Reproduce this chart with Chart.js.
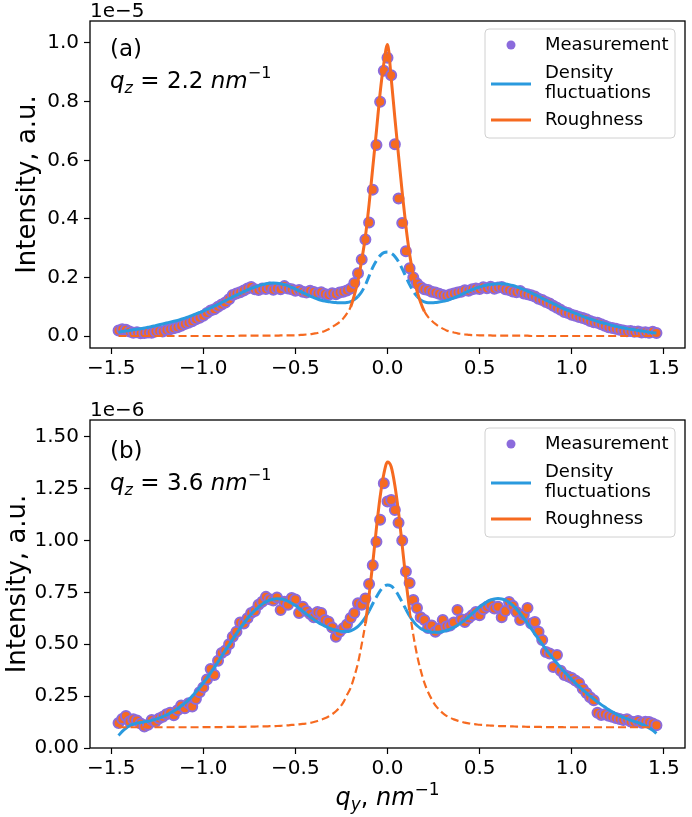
<!DOCTYPE html>
<html>
<head>
<meta charset="utf-8">
<script src="https://cdn.jsdelivr.net/npm/chart.js@4.4.1/dist/chart.umd.min.js"></script>
<style>
  html, body { margin: 0; padding: 0; background: #fff; }
  #wrap { position: relative; width: 692px; height: 817px; }
  .panel { position: absolute; left: 0; width: 692px; }
  #panelA { top: 0; height: 395px; }
  #panelB { top: 395px; height: 422px; }
</style>
</head>
<body>
<div id="wrap">
  <div class="panel" id="panelA"><canvas id="chartA"></canvas></div>
  <div class="panel" id="panelB"><canvas id="chartB"></canvas></div>
</div>
<script>
// q_y grid (nm^-1), shared by both panels
const qy = [
  -1.46, -1.44, -1.42, -1.40, -1.38, -1.36, -1.34, -1.32, -1.30, -1.28,
  -1.26, -1.24, -1.22, -1.20, -1.18, -1.16, -1.14, -1.12, -1.10, -1.08,
  -1.06, -1.04, -1.02, -1.00, -0.98, -0.96, -0.94, -0.92, -0.90, -0.88,
  -0.86, -0.84, -0.82, -0.80, -0.78, -0.76, -0.74, -0.72, -0.70, -0.68,
  -0.66, -0.64, -0.62, -0.60, -0.58, -0.56, -0.54, -0.52, -0.50, -0.48,
  -0.46, -0.44, -0.42, -0.40, -0.38, -0.36, -0.34, -0.32, -0.30, -0.28,
  -0.26, -0.24, -0.22, -0.20, -0.18, -0.16, -0.14, -0.12, -0.10, -0.08,
  -0.06, -0.04, -0.02, 0.00, 0.02, 0.04, 0.06, 0.08, 0.10, 0.12,
  0.14, 0.16, 0.18, 0.20, 0.22, 0.24, 0.26, 0.28, 0.30, 0.32,
  0.34, 0.36, 0.38, 0.40, 0.42, 0.44, 0.46, 0.48, 0.50, 0.52,
  0.54, 0.56, 0.58, 0.60, 0.62, 0.64, 0.66, 0.68, 0.70, 0.72,
  0.74, 0.76, 0.78, 0.80, 0.82, 0.84, 0.86, 0.88, 0.90, 0.92,
  0.94, 0.96, 0.98, 1.00, 1.02, 1.04, 1.06, 1.08, 1.10, 1.12,
  1.14, 1.16, 1.18, 1.20, 1.22, 1.24, 1.26, 1.28, 1.30, 1.32,
  1.34, 1.36, 1.38, 1.40, 1.42, 1.44, 1.46
];

// panel (a), q_z = 2.2 nm^-1, intensity in units of 1e-5
const measA = [
  0.020, 0.024, 0.022, 0.016, 0.012, 0.014, 0.010, 0.011, 0.013, 0.012,
  0.016, 0.018, 0.016, 0.021, 0.024, 0.027, 0.031, 0.036, 0.042, 0.046,
  0.051, 0.058, 0.063, 0.070, 0.079, 0.088, 0.092, 0.101, 0.108, 0.115,
  0.126, 0.141, 0.146, 0.150, 0.156, 0.163, 0.168, 0.160, 0.158, 0.163,
  0.161, 0.166, 0.159, 0.164, 0.160, 0.171, 0.163, 0.160, 0.155, 0.158,
  0.152, 0.149, 0.155, 0.151, 0.146, 0.150, 0.144, 0.141, 0.147, 0.143,
  0.149, 0.152, 0.156, 0.163, 0.182, 0.215, 0.262, 0.330, 0.388, 0.500,
  0.652, 0.800, 0.905, 0.950, 0.890, 0.655, 0.470, 0.386, 0.290, 0.232,
  0.200, 0.180, 0.168, 0.160, 0.158, 0.152, 0.149, 0.145, 0.141, 0.138,
  0.142, 0.146, 0.149, 0.152, 0.157, 0.155, 0.160, 0.163, 0.161, 0.167,
  0.164, 0.169, 0.162, 0.166, 0.168, 0.160, 0.158, 0.153, 0.150, 0.154,
  0.146, 0.143, 0.140, 0.136, 0.128, 0.124, 0.117, 0.112, 0.104, 0.097,
  0.090, 0.083, 0.079, 0.073, 0.070, 0.066, 0.062, 0.058, 0.052, 0.048,
  0.046, 0.041, 0.036, 0.031, 0.028, 0.026, 0.022, 0.020, 0.017, 0.018,
  0.015, 0.016, 0.013, 0.014, 0.012, 0.015, 0.011
];
const densA = [
  0.014, 0.016, 0.018, 0.020, 0.022, 0.024, 0.026, 0.028, 0.031, 0.033,
  0.036, 0.039, 0.042, 0.045, 0.048, 0.051, 0.054, 0.058, 0.062, 0.066,
  0.071, 0.076, 0.081, 0.086, 0.092, 0.097, 0.103, 0.109, 0.115, 0.121,
  0.128, 0.134, 0.140, 0.146, 0.152, 0.158, 0.163, 0.168, 0.172, 0.176,
  0.179, 0.181, 0.182, 0.181, 0.179, 0.176, 0.172, 0.167, 0.161, 0.155,
  0.149, 0.143, 0.137, 0.132, 0.127, 0.123, 0.120, 0.118, 0.116, 0.115,
  0.114, 0.114, 0.115, 0.118, 0.125, 0.136, 0.152, 0.175, 0.205, 0.235,
  0.258, 0.275, 0.285, 0.287, 0.283, 0.272, 0.254, 0.230, 0.203, 0.176,
  0.153, 0.136, 0.124, 0.117, 0.114, 0.114, 0.115, 0.117, 0.119, 0.122,
  0.126, 0.131, 0.136, 0.142, 0.148, 0.154, 0.159, 0.164, 0.168, 0.172,
  0.175, 0.177, 0.178, 0.179, 0.179, 0.178, 0.176, 0.173, 0.169, 0.164,
  0.159, 0.154, 0.148, 0.142, 0.136, 0.129, 0.123, 0.117, 0.111, 0.105,
  0.099, 0.093, 0.088, 0.083, 0.078, 0.073, 0.068, 0.063, 0.059, 0.055,
  0.051, 0.047, 0.044, 0.040, 0.037, 0.034, 0.031, 0.029, 0.026, 0.024,
  0.022, 0.020, 0.018, 0.016, 0.014, 0.012, 0.011
];
const roughA = [
  0.001, 0.001, 0.001, 0.001, 0.001, 0.001, 0.001, 0.001, 0.001, 0.001,
  0.001, 0.001, 0.001, 0.001, 0.001, 0.001, 0.001, 0.001, 0.001, 0.001,
  0.001, 0.001, 0.001, 0.001, 0.001, 0.001, 0.001, 0.001, 0.001, 0.001,
  0.001, 0.001, 0.001, 0.002, 0.002, 0.002, 0.002, 0.002, 0.002, 0.002,
  0.002, 0.002, 0.002, 0.002, 0.003, 0.003, 0.003, 0.003, 0.003, 0.004,
  0.005, 0.006, 0.007, 0.009, 0.011, 0.014, 0.018, 0.024, 0.031, 0.040,
  0.048, 0.061, 0.078, 0.100, 0.140, 0.190, 0.260, 0.340, 0.450, 0.575,
  0.700, 0.830, 0.930, 0.995, 0.880, 0.745, 0.615, 0.490, 0.375, 0.280,
  0.210, 0.155, 0.115, 0.085, 0.066, 0.053, 0.042, 0.033, 0.026, 0.020,
  0.016, 0.013, 0.010, 0.008, 0.006, 0.005, 0.004, 0.004, 0.003, 0.003,
  0.003, 0.003, 0.002, 0.002, 0.002, 0.002, 0.002, 0.002, 0.002, 0.002,
  0.002, 0.002, 0.001, 0.001, 0.001, 0.001, 0.001, 0.001, 0.001, 0.001,
  0.001, 0.001, 0.001, 0.001, 0.001, 0.001, 0.001, 0.001, 0.001, 0.001,
  0.001, 0.001, 0.001, 0.001, 0.001, 0.001, 0.001, 0.001, 0.001, 0.001,
  0.001, 0.001, 0.001, 0.001, 0.001, 0.001, 0.001
];

// panel (b), q_z = 3.6 nm^-1, intensity in units of 1e-6
const measB = [
  0.120, 0.140, 0.154, 0.128, 0.138, 0.132, 0.118, 0.103, 0.112, 0.135,
  0.126, 0.142, 0.150, 0.163, 0.170, 0.158, 0.182, 0.205, 0.191, 0.215,
  0.200, 0.236, 0.268, 0.292, 0.330, 0.380, 0.352, 0.420, 0.458, 0.470,
  0.500, 0.536, 0.560, 0.605, 0.600, 0.625, 0.650, 0.660, 0.690, 0.705,
  0.728, 0.716, 0.710, 0.725, 0.665, 0.705, 0.690, 0.722, 0.715, 0.650,
  0.680, 0.660, 0.645, 0.630, 0.655, 0.650, 0.617, 0.608, 0.580, 0.536,
  0.560, 0.577, 0.595, 0.626, 0.650, 0.697, 0.690, 0.720, 0.790, 0.880,
  0.994, 1.100, 1.275, 1.187, 1.195, 1.147, 1.085, 1.000, 0.850, 0.795,
  0.713, 0.674, 0.630, 0.617, 0.578, 0.590, 0.560, 0.575, 0.617, 0.585,
  0.590, 0.605, 0.665, 0.620, 0.607, 0.625, 0.640, 0.655, 0.640, 0.668,
  0.680, 0.690, 0.672, 0.680, 0.630, 0.660, 0.703, 0.685, 0.655, 0.617,
  0.642, 0.674, 0.600, 0.607, 0.560, 0.520, 0.462, 0.455, 0.390, 0.448,
  0.372, 0.352, 0.345, 0.337, 0.325, 0.313, 0.285, 0.265, 0.245, 0.230,
  0.170, 0.159, 0.162, 0.155, 0.150, 0.145, 0.140, 0.135, 0.138, 0.128,
  0.125, 0.130, 0.122, 0.127, 0.125, 0.118, 0.110
];
const densB = [
  0.060, 0.080, 0.095, 0.107, 0.115, 0.120, 0.123, 0.126, 0.129, 0.133,
  0.138, 0.144, 0.151, 0.159, 0.168, 0.178, 0.189, 0.202, 0.216, 0.232,
  0.250, 0.270, 0.291, 0.313, 0.337, 0.362, 0.388, 0.415, 0.443, 0.470,
  0.497, 0.524, 0.551, 0.577, 0.601, 0.624, 0.645, 0.663, 0.679, 0.693,
  0.704, 0.712, 0.717, 0.719, 0.718, 0.714, 0.707, 0.697, 0.686, 0.673,
  0.659, 0.645, 0.632, 0.619, 0.607, 0.596, 0.587, 0.579, 0.572, 0.567,
  0.563, 0.561, 0.561, 0.565, 0.573, 0.586, 0.605, 0.630, 0.660, 0.695,
  0.728, 0.757, 0.777, 0.785, 0.780, 0.762, 0.735, 0.702, 0.668, 0.636,
  0.610, 0.590, 0.576, 0.567, 0.561, 0.558, 0.557, 0.558, 0.561, 0.566,
  0.573, 0.581, 0.591, 0.603, 0.617, 0.632, 0.648, 0.664, 0.679, 0.692,
  0.704, 0.713, 0.718, 0.720, 0.718, 0.712, 0.701, 0.687, 0.669, 0.648,
  0.625, 0.600, 0.575, 0.550, 0.525, 0.500, 0.475, 0.452, 0.430, 0.408,
  0.387, 0.367, 0.348, 0.330, 0.313, 0.296, 0.280, 0.265, 0.250, 0.236,
  0.222, 0.209, 0.197, 0.185, 0.174, 0.164, 0.155, 0.147, 0.140, 0.134,
  0.128, 0.122, 0.115, 0.107, 0.097, 0.085, 0.070
];
const roughB = [
  0.100, 0.100, 0.100, 0.100, 0.100, 0.100, 0.100, 0.100, 0.100, 0.100,
  0.100, 0.100, 0.100, 0.100, 0.100, 0.100, 0.100, 0.100, 0.100, 0.100,
  0.100, 0.100, 0.100, 0.101, 0.101, 0.101, 0.101, 0.101, 0.101, 0.102,
  0.102, 0.102, 0.102, 0.102, 0.102, 0.103, 0.103, 0.103, 0.104, 0.104,
  0.104, 0.105, 0.105, 0.106, 0.107, 0.108, 0.109, 0.111, 0.112, 0.114,
  0.116, 0.118, 0.121, 0.125, 0.130, 0.136, 0.143, 0.152, 0.163, 0.177,
  0.195, 0.220, 0.255, 0.290, 0.345, 0.410, 0.500, 0.600, 0.735, 0.890,
  1.060, 1.210, 1.320, 1.378, 1.355, 1.265, 1.135, 0.975, 0.810, 0.665,
  0.545, 0.450, 0.375, 0.315, 0.270, 0.235, 0.205, 0.185, 0.168, 0.155,
  0.146, 0.138, 0.132, 0.127, 0.122, 0.119, 0.116, 0.114, 0.112, 0.111,
  0.109, 0.108, 0.107, 0.106, 0.105, 0.105, 0.104, 0.104, 0.103, 0.103,
  0.103, 0.102, 0.102, 0.102, 0.102, 0.101, 0.101, 0.101, 0.101, 0.101,
  0.101, 0.100, 0.100, 0.100, 0.100, 0.100, 0.100, 0.100, 0.100, 0.100,
  0.100, 0.100, 0.100, 0.100, 0.100, 0.100, 0.100, 0.100, 0.100, 0.100,
  0.100, 0.100, 0.100, 0.100, 0.100, 0.100, 0.100
];

const xTicks = [-1.5, -1.0, -0.5, 0.0, 0.5, 1.0, 1.5];
const yTicksA = [0.0, 0.2, 0.4, 0.6, 0.8, 1.0];
const yTicksB = [0.00, 0.25, 0.50, 0.75, 1.00, 1.25, 1.50];

const FONT = 'DejaVu Sans';
const BLUE = '#2a9ade';
const ORANGE = '#f66a20';
const PURPLE = '#8b6bdc';

// draw a run of text pieces (for sub/superscripts)
function drawParts(ctx, x, y, parts) {
    parts.forEach(function(p) {
        ctx.font = (p[2] ? 'italic ' : '') + p[1] + 'px "' + FONT + '"';
        ctx.fillText(p[0], x, y + (p[3] || 0));
        x += ctx.measureText(p[0]).width;
    });
}

function partsWidth(ctx, parts) {
    let w = 0;
    parts.forEach(function(p) {
        ctx.font = (p[2] ? 'italic ' : '') + p[1] + 'px "' + FONT + '"';
        w += ctx.measureText(p[0]).width;
    });
    return w;
}

function drawLegend(ctx, left, top) {
    const w = 190, h = 109, r = 4;
    ctx.save();
    ctx.beginPath();
    ctx.moveTo(left + r, top);
    ctx.arcTo(left + w, top, left + w, top + h, r);
    ctx.arcTo(left + w, top + h, left, top + h, r);
    ctx.arcTo(left, top + h, left, top, r);
    ctx.arcTo(left, top, left + w, top, r);
    ctx.closePath();
    ctx.fillStyle = 'rgba(255,255,255,0.8)';
    ctx.fill();
    ctx.strokeStyle = '#d0d0d0';
    ctx.lineWidth = 1;
    ctx.stroke();

    // Measurement marker
    ctx.beginPath();
    ctx.arc(left + 26, top + 16, 4.5, 0, Math.PI * 2);
    ctx.fillStyle = PURPLE;
    ctx.fill();

    // line samples
    ctx.lineWidth = 3;
    ctx.strokeStyle = BLUE;
    ctx.beginPath();
    ctx.moveTo(left + 6, top + 55);
    ctx.lineTo(left + 46, top + 55);
    ctx.stroke();
    ctx.strokeStyle = ORANGE;
    ctx.beginPath();
    ctx.moveTo(left + 6, top + 91);
    ctx.lineTo(left + 46, top + 91);
    ctx.stroke();

    ctx.fillStyle = '#000';
    ctx.font = '18px "' + FONT + '"';
    ctx.textAlign = 'left';
    ctx.textBaseline = 'middle';
    ctx.fillText('Measurement', left + 60, top + 16);
    ctx.fillText('Density', left + 60, top + 44);
    ctx.fillText('fluctuations', left + 60, top + 64);
    ctx.fillText('Roughness', left + 60, top + 91);
    ctx.restore();
}

function within(ctx, lim) {
    return Math.abs(ctx.p0.parsed.x) <= lim + 1e-6 && Math.abs(ctx.p1.parsed.x) <= lim + 1e-6;
}

function makePanel(id, p) {
    const pts = function(arr) { return qy.map(function(x, i) { return {x: x, y: arr[i]}; }); };

    // frame, exponent, panel labels and legend
    const decor = {
        id: 'decor' + id,
        afterDraw: function(chart) {
            const ctx = chart.ctx;
            const a = chart.chartArea;
            ctx.save();
            ctx.strokeStyle = '#000';
            ctx.lineWidth = 1.3;
            ctx.strokeRect(a.left, a.top, a.right - a.left, a.bottom - a.top);

            ctx.fillStyle = '#000';
            ctx.textAlign = 'left';
            ctx.textBaseline = 'alphabetic';
            ctx.font = '20px "' + FONT + '"';
            ctx.fillText(p.exponent, a.left, a.top - 4);

            ctx.font = '23px "' + FONT + '"';
            ctx.fillText(p.tag, a.left + 20, a.top + p.tagY);
            drawParts(ctx, a.left + 20, a.top + p.tagY + 32, [
                ['q', 23, true], ['z', 16, true, 5], [' = ' + p.qz + ' ', 23, false],
                ['nm', 23, true], ['\u22121', 16, false, -10]
            ]);

            if (p.xlabel) {
                const parts = [['q', 24, true], ['y', 17, true, 5], [', ', 24, false],
                               ['nm', 24, true], ['\u22121', 17, false, -10]];
                const w = partsWidth(ctx, parts);
                drawParts(ctx, (a.left + a.right) / 2 - w / 2, chart.height - 12, parts);
            }
            ctx.restore();
            drawLegend(ctx, a.right - 200, a.top + 8);
        }
    };

    return new Chart(document.getElementById(id), {
        type: 'line',
        data: {
            datasets: [{
                label: 'Roughness',
                data: pts(p.rough),
                borderColor: ORANGE,
                borderWidth: 3,
                pointRadius: 0,
                cubicInterpolationMode: 'monotone',
                order: 1,
                segment: {
                    borderDash: function(ctx) { return within(ctx, p.roughSolid) ? [] : [8, 4]; },
                    borderWidth: function(ctx) { return within(ctx, p.roughSolid) ? 3 : 2.2; }
                }
            }, {
                label: 'Density fluctuations',
                data: pts(p.dens),
                borderColor: BLUE,
                borderWidth: 3,
                pointRadius: 0,
                cubicInterpolationMode: 'monotone',
                order: 2,
                segment: {
                    borderDash: function(ctx) { return within(ctx, p.densDashed) ? [10, 5] : []; }
                }
            }, {
                label: 'Measurement',
                data: pts(p.meas),
                showLine: false,
                pointRadius: 5,
                pointBorderWidth: 2,
                pointBackgroundColor: ORANGE,
                pointBorderColor: PURPLE,
                order: 3
            }]
        },
        options: {
            responsive: true,
            maintainAspectRatio: false,
            animation: false,
            devicePixelRatio: 1,
            layout: { padding: { top: p.padTop, right: 5, left: 0, bottom: 0 } },
            scales: {
                x: {
                    type: 'linear',
                    min: -1.615,
                    max: 1.615,
                    afterBuildTicks: function(s) { s.ticks = xTicks.map(function(v) { return {value: v}; }); },
                    afterFit: function(s) { s.height = p.xHeight; },
                    ticks: {
                        color: '#000',
                        font: { family: FONT, size: 20 },
                        padding: 3,
                        maxRotation: 0,
                        callback: function(v) { return v.toFixed(1).replace('-', '\u2212'); }
                    },
                    grid: { display: true, drawOnChartArea: false, drawTicks: true, tickLength: 6, tickColor: '#000', tickWidth: 1.2 },
                    border: { display: false }
                },
                y: {
                    min: p.yMin,
                    max: p.yMax,
                    afterBuildTicks: function(s) { s.ticks = p.yTicks.map(function(v) { return {value: v}; }); },
                    afterFit: function(s) { s.width = 90; },
                    ticks: {
                        color: '#000',
                        font: { family: FONT, size: 20 },
                        padding: 5,
                        callback: function(v) { return v.toFixed(p.yDigits); }
                    },
                    grid: { display: true, drawOnChartArea: false, drawTicks: true, tickLength: 6, tickColor: '#000', tickWidth: 1.2 },
                    border: { display: false },
                    title: {
                        display: true,
                        text: 'Intensity, a.u.',
                        color: '#000',
                        font: { family: FONT, size: 26 },
                        padding: { top: p.titlePad, bottom: 0 }
                    }
                }
            },
            plugins: {
                legend: { display: false },
                tooltip: { enabled: false }
            }
        },
        plugins: [decor]
    });
}

document.addEventListener('DOMContentLoaded', function() {
    makePanel('chartA', {
        meas: measA, dens: densA, rough: roughA,
        yMin: -0.04, yMax: 1.075, yTicks: yTicksA, yDigits: 1,
        padTop: 21, xHeight: 47, exponent: '1e\u22125', tag: '(a)', tagY: 35, qz: '2.2',
        densDashed: 0.16, roughSolid: 0.20, xlabel: false, titlePad: 13
    });
    makePanel('chartB', {
        meas: measB, dens: densB, rough: roughB,
        yMin: 0, yMax: 1.58, yTicks: yTicksB, yDigits: 2,
        padTop: 25, xHeight: 69, exponent: '1e\u22126', tag: '(b)', tagY: 38, qz: '3.6',
        densDashed: 0.10, roughSolid: 0.12, xlabel: true, titlePad: 3
    });
});
</script>
</body>
</html>
